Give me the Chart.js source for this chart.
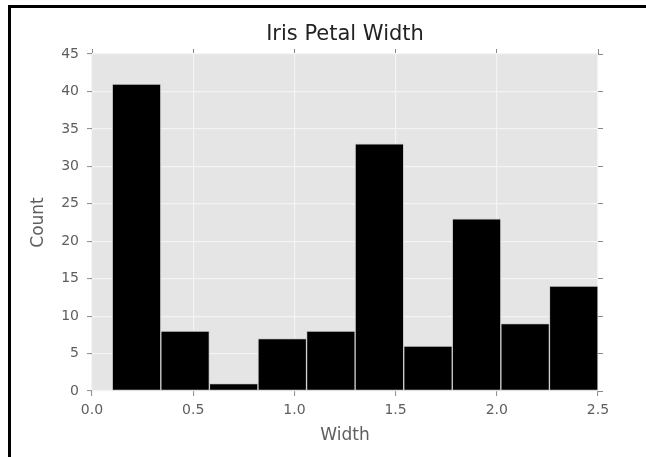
<!DOCTYPE html>
<html>
<head>
<meta charset="utf-8">
<script src="https://cdn.jsdelivr.net/npm/chart.js@4/dist/chart.umd.min.js"></script>
<style>
  html, body { margin: 0; padding: 0; background: #ffffff; }
  #wrap { width: 646px; height: 457px; position: relative; }
</style>
</head>
<body>
<div id="wrap"><canvas id="c" width="646" height="457"></canvas></div>
<script>
// ---- data ----
const binCenters = [0.22, 0.46, 0.70, 0.94, 1.18, 1.42, 1.66, 1.90, 2.14, 2.38];
const counts     = [41, 8, 1, 7, 8, 33, 6, 23, 9, 14];
const xTickValues = [0.0, 0.5, 1.0, 1.5, 2.0, 2.5];
const yTickValues = [0, 5, 10, 15, 20, 25, 30, 35, 40, 45];
const chartTitle = 'Iris Petal Width';
const xTitle = 'Width';
const yTitle = 'Count';

const FONT = "'DejaVu Sans', 'Liberation Sans', sans-serif";
const TICK_COLOR = '#5e5e5e';

const points = binCenters.map((x, i) => ({ x: x, y: counts[i] }));

const frame = {
  id: 'frame',
  beforeDraw(chart) {
    const { ctx, chartArea: a } = chart;
    ctx.save();
    ctx.fillStyle = '#ffffff';
    ctx.fillRect(0, 0, chart.width, chart.height);
    ctx.fillStyle = '#e5e5e5';
    ctx.fillRect(a.left, a.top, a.right - a.left, a.bottom - a.top);
    ctx.restore();
  },
  afterDraw(chart) {
    const { ctx } = chart;
    ctx.save();
    ctx.fillStyle = '#000000';
    ctx.fillRect(8, 5, chart.width - 8, 3);
    ctx.fillRect(8, 5, 3, chart.height - 5);
    ctx.restore();
  }
};

const minorAxisTicks = (vals) => function (scale) {
  scale.ticks = vals.map(v => ({ value: v }));
};

new Chart(document.getElementById('c'), {
  type: 'bar',
  data: {
    datasets: [{
      data: points,
      backgroundColor: '#000000',
      borderColor: '#cfcfcf',
      borderWidth: 1,
      borderSkipped: false,
      barPercentage: 1.0,
      categoryPercentage: 1.0
    }]
  },
  options: {
    responsive: false,
    animation: false,
    events: [],
    layout: { padding: 0 },
    plugins: {
      legend: { display: false },
      tooltip: { enabled: false },
      title: { display: false }
    },
    scales: {
      x: {
        type: 'linear',
        position: 'bottom',
        min: 0, max: 2.5,
        offset: false,
        afterFit(s) { s.height = 66; },
        afterBuildTicks: minorAxisTicks(xTickValues),
        grid: { offset: false, color: '#f4f4f4', lineWidth: 1.2, tickColor: '#888888', tickLength: 5, tickWidth: 1 },
        border: { display: false },
        ticks: {
          color: TICK_COLOR, font: { family: FONT, size: 14 }, padding: 6,
          maxRotation: 0, autoSkip: false,
          callback: v => Number(v).toFixed(1)
        },
        title: { display: true, text: xTitle, color: TICK_COLOR, font: { family: FONT, size: 17 }, padding: { top: 0, bottom: 11 } }
      },
      x2: {
        type: 'linear',
        position: 'top',
        min: 0, max: 2.5,
        offset: false,
        afterFit(s) { s.height = 54; },
        afterBuildTicks: minorAxisTicks(xTickValues),
        grid: { drawOnChartArea: false, offset: false, tickColor: '#888888', tickLength: 5, tickWidth: 1 },
        border: { display: false },
        ticks: { display: false },
        title: { display: true, text: chartTitle, color: '#222222', font: { family: FONT, size: 21 }, padding: { top: 22, bottom: 0 } }
      },
      y: {
        type: 'linear',
        position: 'left',
        min: 0, max: 45,
        afterFit(s) { s.width = 92; },
        afterBuildTicks: minorAxisTicks(yTickValues),
        grid: { color: '#f4f4f4', lineWidth: 1.2, tickColor: '#888888', tickLength: 5, tickWidth: 1 },
        border: { display: false },
        ticks: { color: TICK_COLOR, font: { family: FONT, size: 14 }, padding: 8 },
        title: { display: true, text: yTitle, color: TICK_COLOR, font: { family: FONT, size: 17 }, padding: { top: 28, bottom: 0 } }
      },
      y2: {
        type: 'linear',
        position: 'right',
        min: 0, max: 45,
        afterFit(s) { s.width = 48; },
        afterBuildTicks: minorAxisTicks(yTickValues),
        grid: { drawOnChartArea: false, tickColor: '#888888', tickLength: 5, tickWidth: 1 },
        border: { display: false },
        ticks: { display: false }
      }
    }
  },
  plugins: [frame]
});
</script>
</body>
</html>
